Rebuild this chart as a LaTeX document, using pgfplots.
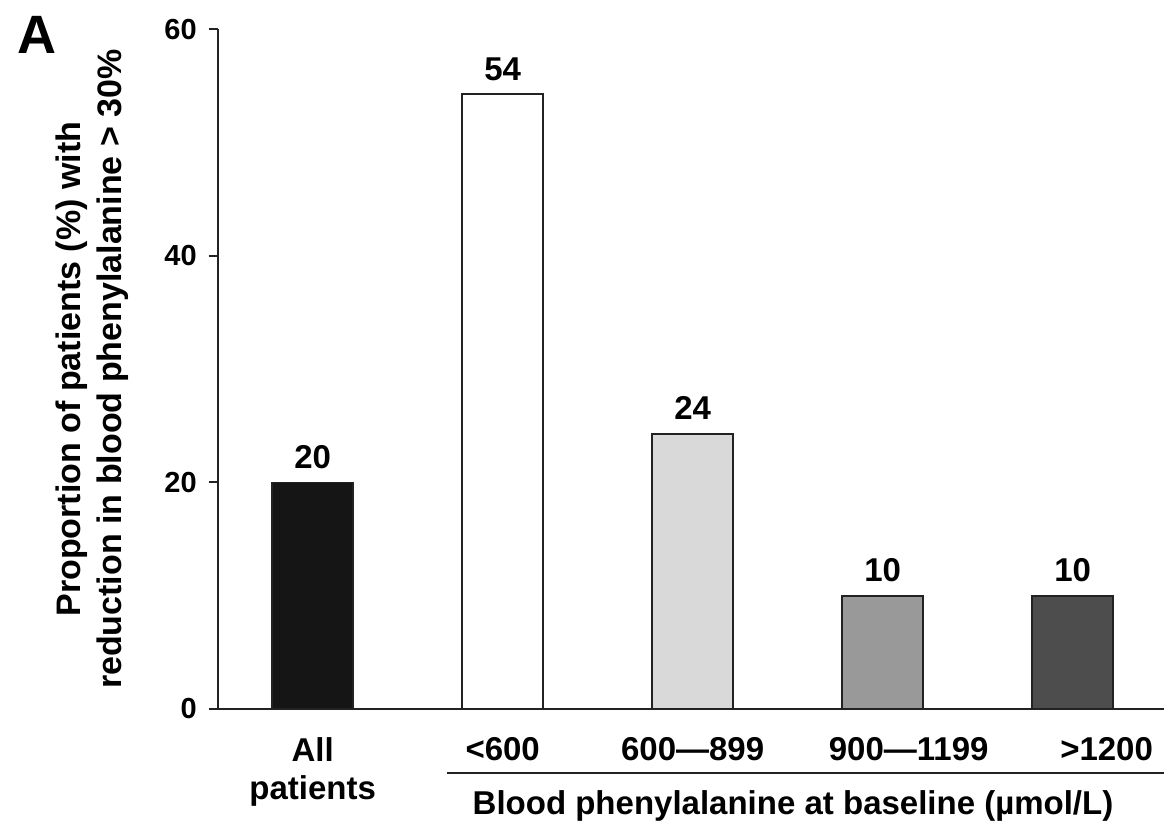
\documentclass[border=0pt]{standalone}
\usepackage{fontspec}
\setmainfont{Liberation Sans}
\usepackage{pgfplots}
\pgfplotsset{compat=1.18}
\definecolor{barblack}{HTML}{151515}
\definecolor{barlight}{HTML}{D9D9D9}
\definecolor{barmid}{HTML}{999999}
\definecolor{bardark}{HTML}{4D4D4D}
\definecolor{edge}{HTML}{222222}
\begin{document}
\begin{tikzpicture}
\path[use as bounding box] (-108.85pt,-56.5pt) rectangle (473.15pt,354.5pt);
\begin{axis}[
  at={(0,0)}, anchor=south west,
  width=473.15pt, height=339.75pt, scale only axis,
  xmin=-0.5, xmax=4.481, ymin=0, ymax=60,
  clip=false,
  axis x line*=bottom, axis y line*=left,
  axis line style={line width=1pt, color=edge, -},
  ytick={0,20,40,60},
  xtick={0,1,2,3.137,4.179},
  xticklabels={{All\\patients},{<600},{600—899},{900—1199},{>1200}},
  x tick style={draw=none},
  y tick style={line width=1pt, color=edge},
  tick align=outside, major tick length=4.5pt,
  /pgf/number format/assume math mode=true,
  yticklabel style={font=\bfseries\fontsize{14.5}{16}\selectfont, inner sep=0pt, xshift=-5.8pt},
  xticklabel style={font=\bfseries\fontsize{16.5}{19}\selectfont, align=center, anchor=north, inner sep=0pt, yshift=-9.5pt},
  ybar, bar width=40.5pt, bar shift=0pt,
  nodes near coords,
  point meta=explicit symbolic,
  nodes near coords style={font=\bfseries\fontsize{16.5}{19}\selectfont, anchor=base, inner sep=0pt, yshift=7pt, text=black},
]
\addplot[fill=barblack, draw=edge, line width=0.9pt, bar shift=0pt] coordinates {(0,20) [20]};
\addplot[fill=white, draw=edge, line width=0.9pt, bar shift=0pt] coordinates {(1,54.3) [54]};
\addplot[fill=barlight, draw=edge, line width=0.9pt, bar shift=0pt] coordinates {(2,24.3) [24]};
\addplot[fill=barmid, draw=edge, line width=0.9pt, bar shift=0pt] coordinates {(3,10) [10]};
\addplot[fill=bardark, draw=edge, line width=0.9pt, bar shift=0pt] coordinates {(4,10) [10]};
\end{axis}
\node[rotate=90, align=center, font=\bfseries\fontsize{17}{20.5}\selectfont, inner sep=0pt] at (-62.6pt,169.9pt) {Proportion of patients (\%) with\\reduction in blood phenylalanine > 30\%};
\draw[line width=1pt, color=edge] (114.5pt,-32pt) -- (473.15pt,-32pt);
\node[anchor=base, inner sep=0pt, font=\bfseries\fontsize{16.5}{19}\selectfont] at (287.65pt,-53pt) {Blood phenylalanine at baseline (µmol/L)};
\node[anchor=north west, inner sep=0pt, font=\bfseries\fontsize{27}{30}\selectfont] at (-100.5pt,346.5pt) {A};
\end{tikzpicture}
\end{document}
